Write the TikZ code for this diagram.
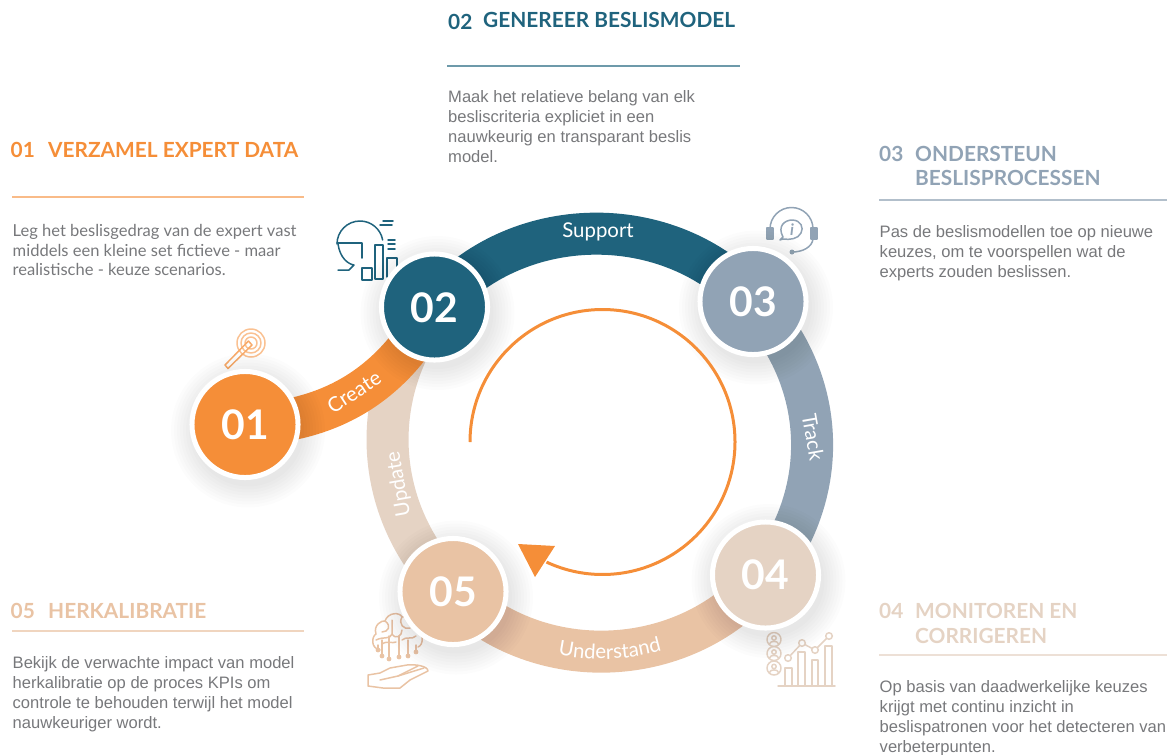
\documentclass[tikz,border=0pt]{standalone}
\usepackage{fontspec}
\setmainfont{Lato}
\newfontfamily\plainfont{Liberation Sans}
\usetikzlibrary{decorations.text}

\definecolor{create}{HTML}{F58E38}
\definecolor{support}{HTML}{1F637D}
\definecolor{track}{HTML}{91A3B5}
\definecolor{monitor}{HTML}{E5D3C4}
\definecolor{recal}{HTML}{E9C3A4}
\definecolor{bodygray}{HTML}{77787B}

\pgfdeclarelayer{bandlayer}
\pgfdeclarelayer{shadelayer}
\pgfsetlayers{bandlayer,shadelayer,main}

\newcommand{\numfont}{\fontsize{11.6}{12}\selectfont\bfseries}
\newcommand{\bandfont}{\fontsize{5.8}{7}\selectfont}
\tikzset{
  stepcircle/.style={circle,fill=#1,draw=white,line width=.05cm,minimum size=1.06cm,
    inner sep=0pt,text=white,font=\numfont},
  bandarc/.style={draw=#1,line width=.42cm},
  bandtext/.style={text=white,font=\bandfont,inner sep=0pt},
  headtext/.style={text=#1,font=\fontsize{5.93}{7.1}\selectfont\bfseries,inner sep=0pt,anchor=base west},
  leadtext/.style={text=bodygray,font=\plainfont\fontsize{4.71}{5.66}\selectfont,inner sep=0pt,
    anchor=north west,align=left},
  leadlato/.style={leadtext,font=\fontsize{4.7}{5.5}\selectfont},
  headrule/.style={draw=#1,line width=.015cm},
  iconline/.style={draw=#1,line width=.015cm,line cap=round,line join=round},
}

\begin{document}
\begin{tikzpicture}[x=.01cm,y=-.01cm]
\useasboundingbox (0,0) rectangle (1167,754);

%%Circles
\node (n01) [stepcircle=create,text height=.31cm] at (245,424.5) {01};
\node (n02) [stepcircle=support,text height=.32cm] at (434.5,307) {02};
\node (n03) [stepcircle=track] at (753,301.5) {03};
\node (n04) [stepcircle=monitor] at (765.5,575) {04};
\node (n05) [stepcircle=recal] at (453,591.5) {05};

%%Bands
\begin{pgfonlayer}{bandlayer}
\draw[bandarc=monitor] (n05.center) to[bend left=42] (n02.center);
\draw[bandarc=create] (n01.center) to[bend right=30] (n02.center);
\draw[bandarc=support] (n02.center) to[bend left=49] (n03.center);
\draw[bandarc=track] (n03.center) to[bend left=41] (n04.center);
\draw[bandarc=recal] (n04.center) to[bend left=48] (n05.center);

%%Icon 01
\foreach \rad in {6,10,14}
  \draw[iconline=create!55] (251,343) circle (\rad);
\draw[iconline=create!75] (248.5,341) -- (225,365) -- (228,368.5) -- (252,345) -- cycle;

%%Icon 02
\draw[iconline=support] (337,244) arc[start angle=180,end angle=350,radius=23];
\draw[iconline=support] (337,243) -- (362,243) -- (362,258);
\draw[iconline=support] (338,244) .. controls (340,258) and (348,264) .. (354,265) -- (349,270) -- (338,270);
\draw[iconline=support] (362,268) rectangle (372,280);
\draw[iconline=support] (375,245) rectangle (383,279);
\draw[iconline=support] (387,277) -- (387,258) -- (397,258) -- (397,270);
\foreach \x/\y/\w in {383/221/10,380/225/12,388/240/7,388/244/7,388/249/7}
  \draw[iconline=support] (\x,\y) -- ++(\w,0);

%%Icon 03
\draw[iconline=track] (770,229) arc[start angle=180,end angle=360,radius=21.5];
\draw[iconline=track,fill=track] (767,228) rectangle (773,239);
\draw[iconline=track,fill=track] (811,228) rectangle (817,239);
\draw[iconline=track] (813,239) .. controls (812,247) and (803,252) .. (792,252);
\fill[track] (792,252) circle (2.5);
\draw[iconline=track] (783,237) .. controls (777,226) and (785,220) .. (792,220)
  .. controls (801,220) and (804,228) .. (801,233) .. controls (798,239) and (790,240) .. (783,239) -- (780,240) -- cycle;
\node (info) [text=track,inner sep=0pt,font=\fontsize{4.5}{5}\selectfont\itshape\bfseries] at (792,230) {i};

%%Icon 04
\foreach \y in {639.5,653.5,668}{
  \draw[iconline=monitor] (774,\y) circle (7);
  \draw[iconline=monitor] (774,\y-1.5) circle (2.2);
  \draw[iconline=monitor] (769.5,\y+4.5) .. controls (770,\y+1) and (778,\y+1) .. (778.5,\y+4.5);
}
\draw[iconline=monitor] (778,686) -- (835,686);
\foreach \x/\w/\y in {785/7/668,798/7/652,812/6/660,825/7/646}
  \draw[iconline=monitor] (\x,686) -- (\x,\y) -- ++(\w,0) -- (\x+\w,686);
\draw[iconline=monitor] (788,658) -- (802,643) -- (815,650) -- (829,636);
\foreach \x/\y in {788/658,802/643,815/650,829/636}
  \draw[iconline=monitor,fill=white] (\x,\y) circle (3.3);

%%Icon 05
\draw[iconline=recal] (380,650) .. controls (370,648) and (372,636) .. (376,634)
  .. controls (373,625) and (382,620) .. (385,621) .. controls (388,612) and (400,612) .. (402,617)
  .. controls (410,614) and (418,622) .. (416,628) .. controls (424,632) and (424,645) .. (418,647);
\draw[iconline=recal] (385,621) .. controls (392,626) and (388,632) .. (382,632);
\draw[iconline=recal] (402,617) .. controls (398,624) and (404,630) .. (410,628);
\draw[iconline=recal] (376,640) .. controls (384,636) and (390,640) .. (392,634);
\draw[iconline=recal] (392,620) -- (392,634) .. controls (396,640) and (402,636) .. (402,630);
\draw[iconline=recal] (382,644) .. controls (388,640) and (392,644) .. (396,642);
\draw[iconline=recal] (402,640) .. controls (406,636) and (412,640) .. (416,636);
\foreach \x/\y/\t in {378/650/645,382/656/640,389/659/636,399/657/636,408/656/640,416/652/645}{
  \draw[iconline=recal] (\x,\t) -- (\x,\y);
  \fill[recal] (\x,\y) circle (2.4);
}
\draw[iconline=recal] (368,675) -- (380,673) -- (390,668) -- (407,665)
  .. controls (415,664) and (428,666) .. (428,671) -- (410,680) -- (400,688) -- (383,688) -- (368,686) -- cycle;
\draw[iconline=recal] (380,680) -- (398,676) -- (418,666);
\draw[iconline=recal] (398,676) -- (424,668);
\end{pgfonlayer}

%%Shadows
\begin{pgfonlayer}{shadelayer}
\foreach \step in {n01,n02,n03,n04,n05}
  \foreach \rad in {56,59,62,65,68,71,74,77}
    \fill[black,opacity=.012] ([shift={(3,6)}]\step.center) circle (\rad);
\end{pgfonlayer}

%%Inner loop
\draw[create,line width=.03cm] (470,442) arc[start angle=180,end angle=475,radius=132.5];
\fill[create] (518,544) -- (555,546) -- (535,577) -- cycle;

%%Band labels
\node (lbCreate) [bandtext,rotate=33] at (354,392) {Create};
\node (lbSupport) [bandtext] at (598,232) {Support};
\node (lbTrack) [bandtext,rotate=-80] at (813,437) {Track};
\node (lbUpdate) [bandtext,rotate=100] at (399,484) {Update};
\path[shift={(602.5,442)},decorate,decoration={text along path,text color=white,text align=center,
  text={|\bandfont|Understand}}] (110:217) arc[start angle=110,end angle=66,radius=217];

%%Label 01
\draw (10,157.5) node (num01) [headtext=create] {01};
\draw (47.5,157.5) node (head01) [headtext=create] {VERZAMEL EXPERT DATA};
\draw[headrule=create!60] (12,197) -- (304,197);
\draw (12,224) node (lead01) [leadlato] {Leg het beslisgedrag van de expert vast\\middels een kleine set fictieve - maar\\realistische - keuze scenarios.};

%%Label 02
\draw (447.5,29.5) node (num02) [headtext=support] {02};
\draw (482.5,27.5) node (head02) [headtext=support] {GENEREER BESLISMODEL};
\draw[headrule=support!65] (447,66) -- (740,66);
\draw (447.5,90) node (lead02) [leadtext] {Maak het relatieve belang van elk\\besliscriteria expliciet in een\\nauwkeurig en transparant beslis\\model.};

%%Label 03
\draw (878.5,161.5) node (num03) [headtext=track] {03};
\draw (914.5,161.5) node (head03) [headtext=track] {ONDERSTEUN};
\draw (914.5,185) node (head03b) [headtext=track] {BESLISPROCESSEN};
\draw[headrule=track!70] (879,200) -- (1167,200);
\draw (879,225) node (lead03) [leadtext] {Pas de beslismodellen toe op nieuwe\\keuzes, om te voorspellen wat de\\experts zouden beslissen.};

%%Label 04
\draw (878.5,618) node (num04) [headtext=monitor] {04};
\draw (914.5,618) node (head04) [headtext=monitor] {MONITOREN EN};
\draw (914.5,643) node (head04b) [headtext=monitor] {CORRIGEREN};
\draw[headrule=monitor!70] (879,655) -- (1167,655);
\draw (879,680) node (lead04) [leadtext] {Op basis van daadwerkelijke keuzes\\krijgt met continu inzicht in\\beslispatronen voor het detecteren van\\verbeterpunten.};

%%Label 05
\draw (10,618) node (num05) [headtext=recal] {05};
\draw (47.5,618) node (head05) [headtext=recal] {HERKALIBRATIE};
\draw[headrule=recal!70] (12,631) -- (304,631);
\draw (12,656) node (lead05) [leadtext] {Bekijk de verwachte impact van model\\herkalibratie op de proces KPIs om\\controle te behouden terwijl het model\\nauwkeuriger wordt.};
\end{tikzpicture}
\end{document}
